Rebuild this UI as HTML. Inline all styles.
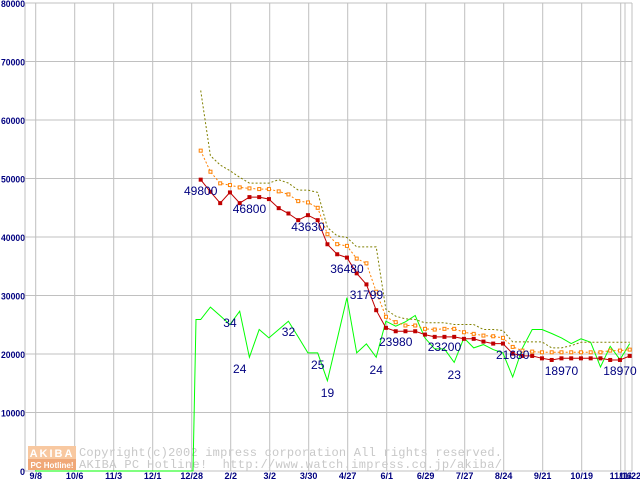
<!DOCTYPE html>
<html><head><meta charset="utf-8"><style>
body{margin:0;background:#fff;}
svg{display:block;}
</style></head><body>
<svg id="chart" width="640" height="480" xmlns="http://www.w3.org/2000/svg" font-family="Liberation Sans, sans-serif">
<g id="grid"></g>
<g id="wm">
  <rect x="28" y="446" width="48" height="13" fill="#f8c8a0"/>
  <rect x="28" y="459" width="48" height="11" fill="#f0a878"/>
  <text x="52" y="457" font-size="11" font-weight="bold" fill="#fff" text-anchor="middle" letter-spacing="2">AKIBA</text>
  <text x="52" y="468" font-size="8" font-weight="bold" fill="#fff" text-anchor="middle">PC Hotline!</text>
  <text x="79" y="456" font-family="Liberation Mono, monospace" font-size="12" fill="#c8c8c8" textLength="423" lengthAdjust="spacing">Copyright(c)2002 impress corporation All rights reserved.</text>
  <text x="79" y="468" font-family="Liberation Mono, monospace" font-size="12" fill="#c8c8c8" textLength="423" lengthAdjust="spacing" xml:space="preserve">AKIBA PC Hotline!  http://www.watch.impress.co.jp/akiba/</text>
</g>
<g id="series"></g>
<g id="labels"></g>
</svg>
<script>
const yTicks=[0,10000,20000,30000,40000,50000,60000,70000,80000];
const xTickLabels=["9/8","10/6","11/3","12/1","12/28","2/2","3/2","3/30","4/27","6/1","6/29","7/27","8/24","9/21","10/19","11/16","11/22"];
const redValues=[49800,47730,45790,47620,45790,46820,46820,46480,44930,44020,42880,43730,42880,38760,37050,36480,33790,31900,27490,24470,23890,23890,23890,23320,22930,22930,22930,22590,22590,22120,21780,21780,20070,19670,19670,19260,18980,19260,19260,19260,19260,19260,18980,18980,19670];
const orangeValues=[54760,51160,49170,48880,48480,48310,48190,48190,47800,47280,46130,45910,44990,40480,38770,38480,36310,35500,30650,26360,25440,24870,24870,24300,24180,24300,24300,23720,23440,23150,23030,22760,21210,20580,20410,20290,20290,20290,20290,20290,20290,20290,20580,20580,20750];
const oliveValues=[65050,53900,52310,51330,50200,49220,49220,49220,49790,49220,48020,48020,47620,41620,40180,39910,38300,38300,38300,27610,26460,26010,25900,25330,25330,25330,25040,25040,25040,24180,24180,24010,22070,22070,22070,22070,21040,21040,21440,22000,22000,22000,22000,22000,22000];
const greenValues=[25900,28010,26530,25040,27320,19430,24180,22760,24180,25610,22930,20190,20190,15440,22530,29620,20190,21730,19430,25610,24750,25500,26580,22760,20870,20870,18570,22760,21040,21610,20750,20190,16070,21040,24180,24180,23500,22760,21780,22590,22000,17780,21320,19040,21780];
const priceLabels=[["49800",0,190],["46800",5,208],["43630",11,226],["36480",15,268],["31799",17,294],["23980",20,341],["23200",25,346],["21680",32,354],["18970",37,370],["18970",43,370]];
const countLabels=[["34",3,322],["24",4,368],["32",9,331],["25",12,364],["19",13,392],["24",18,369],["23",26,374]];

const NS="http://www.w3.org/2000/svg";
const y=v=>471-v*(468/80000);
const xi=i=>200.7+i*9.75;
const xTick=k=>35.7+k*39;
function mk(tag,attrs,parent){const e=document.createElementNS(NS,tag);for(const k in attrs)e.setAttribute(k,attrs[k]);parent.appendChild(e);return e;}
const grid=document.getElementById('grid');
yTicks.forEach(t=>{
  const l=mk('line',{x1:25,x2:632,y1:y(t),y2:y(t),stroke:'#c0c0c0','stroke-width':1},grid);
  
  
  const s=String(t);
  const attrs={x:25,y:y(t)+4,'font-size':9,'font-weight':'bold','text-anchor':'end',fill:'#000080'};
  if(s.length>1){attrs.textLength=s.length*4.8;attrs.lengthAdjust='spacingAndGlyphs';}
  const tx=mk('text',attrs,grid);
  tx.textContent=s;
  
  
});
xTickLabels.forEach((lab,k)=>{
  let xx=k<16?xTick(k):625;
  if(k===16){mk('line',{x1:625,x2:625,y1:3,y2:471,stroke:'#c0c0c0'},grid);}
  const l=mk('line',{x1:xx,x2:xx,y1:3,y2:471,stroke:'#c0c0c0','stroke-width':1},grid);
  
  
  const tx=mk('text',{x:k===16?630:xx,y:479,'font-size':9,'font-weight':'bold','text-anchor':'middle',fill:'#000080'},grid);
  tx.textContent=lab;
  
  
});
mk('line',{x1:632,x2:632,y1:3,y2:471,stroke:'#c0c0c0'},grid);
mk('line',{x1:25,x2:25,y1:3,y2:471,stroke:'#c0c0c0'},grid);
mk('line',{x1:25,x2:632,y1:471,y2:471,stroke:'#c0c0c0'},grid);

const ser=document.getElementById('series');
const pts=a=>a.map((v,i)=>xi(i).toFixed(1)+','+y(v).toFixed(1)).join(' ');
const g0=mk('polyline',{points:'35,471 193,471 196,'+y(greenValues[0]).toFixed(1)+' '+pts(greenValues),fill:'none',stroke:'#00ff00','stroke-width':1},ser);


const ol=mk('polyline',{points:pts(oliveValues),fill:'none',stroke:'#808000','stroke-width':1,'stroke-dasharray':'2,2'},ser);


const or=mk('polyline',{points:pts(orangeValues),fill:'none',stroke:'#ff8000','stroke-width':1,'stroke-dasharray':'2,2'},ser);


orangeValues.forEach((v,i)=>{
  const r=mk('rect',{x:xi(i)-1.5,y:y(v)-1.5,width:3,height:3,fill:'#fff',stroke:'#ff8000','stroke-width':1},ser);
  
  
});
const rd=mk('polyline',{points:pts(redValues),fill:'none',stroke:'#c00000','stroke-width':1},ser);


redValues.forEach((v,i)=>{
  const r=mk('rect',{x:xi(i)-2,y:y(v)-2,width:4,height:4,fill:'#c00000'},ser);
  
  
});
const lg=document.getElementById('labels');
priceLabels.concat(countLabels).forEach(([t,i,yy])=>{
  const tx=mk('text',{x:xi(i),y:yy+5,'font-size':12,'text-anchor':'middle',fill:'#000080'},lg);
  tx.textContent=t;
  
  
});
</script>
</body></html>
